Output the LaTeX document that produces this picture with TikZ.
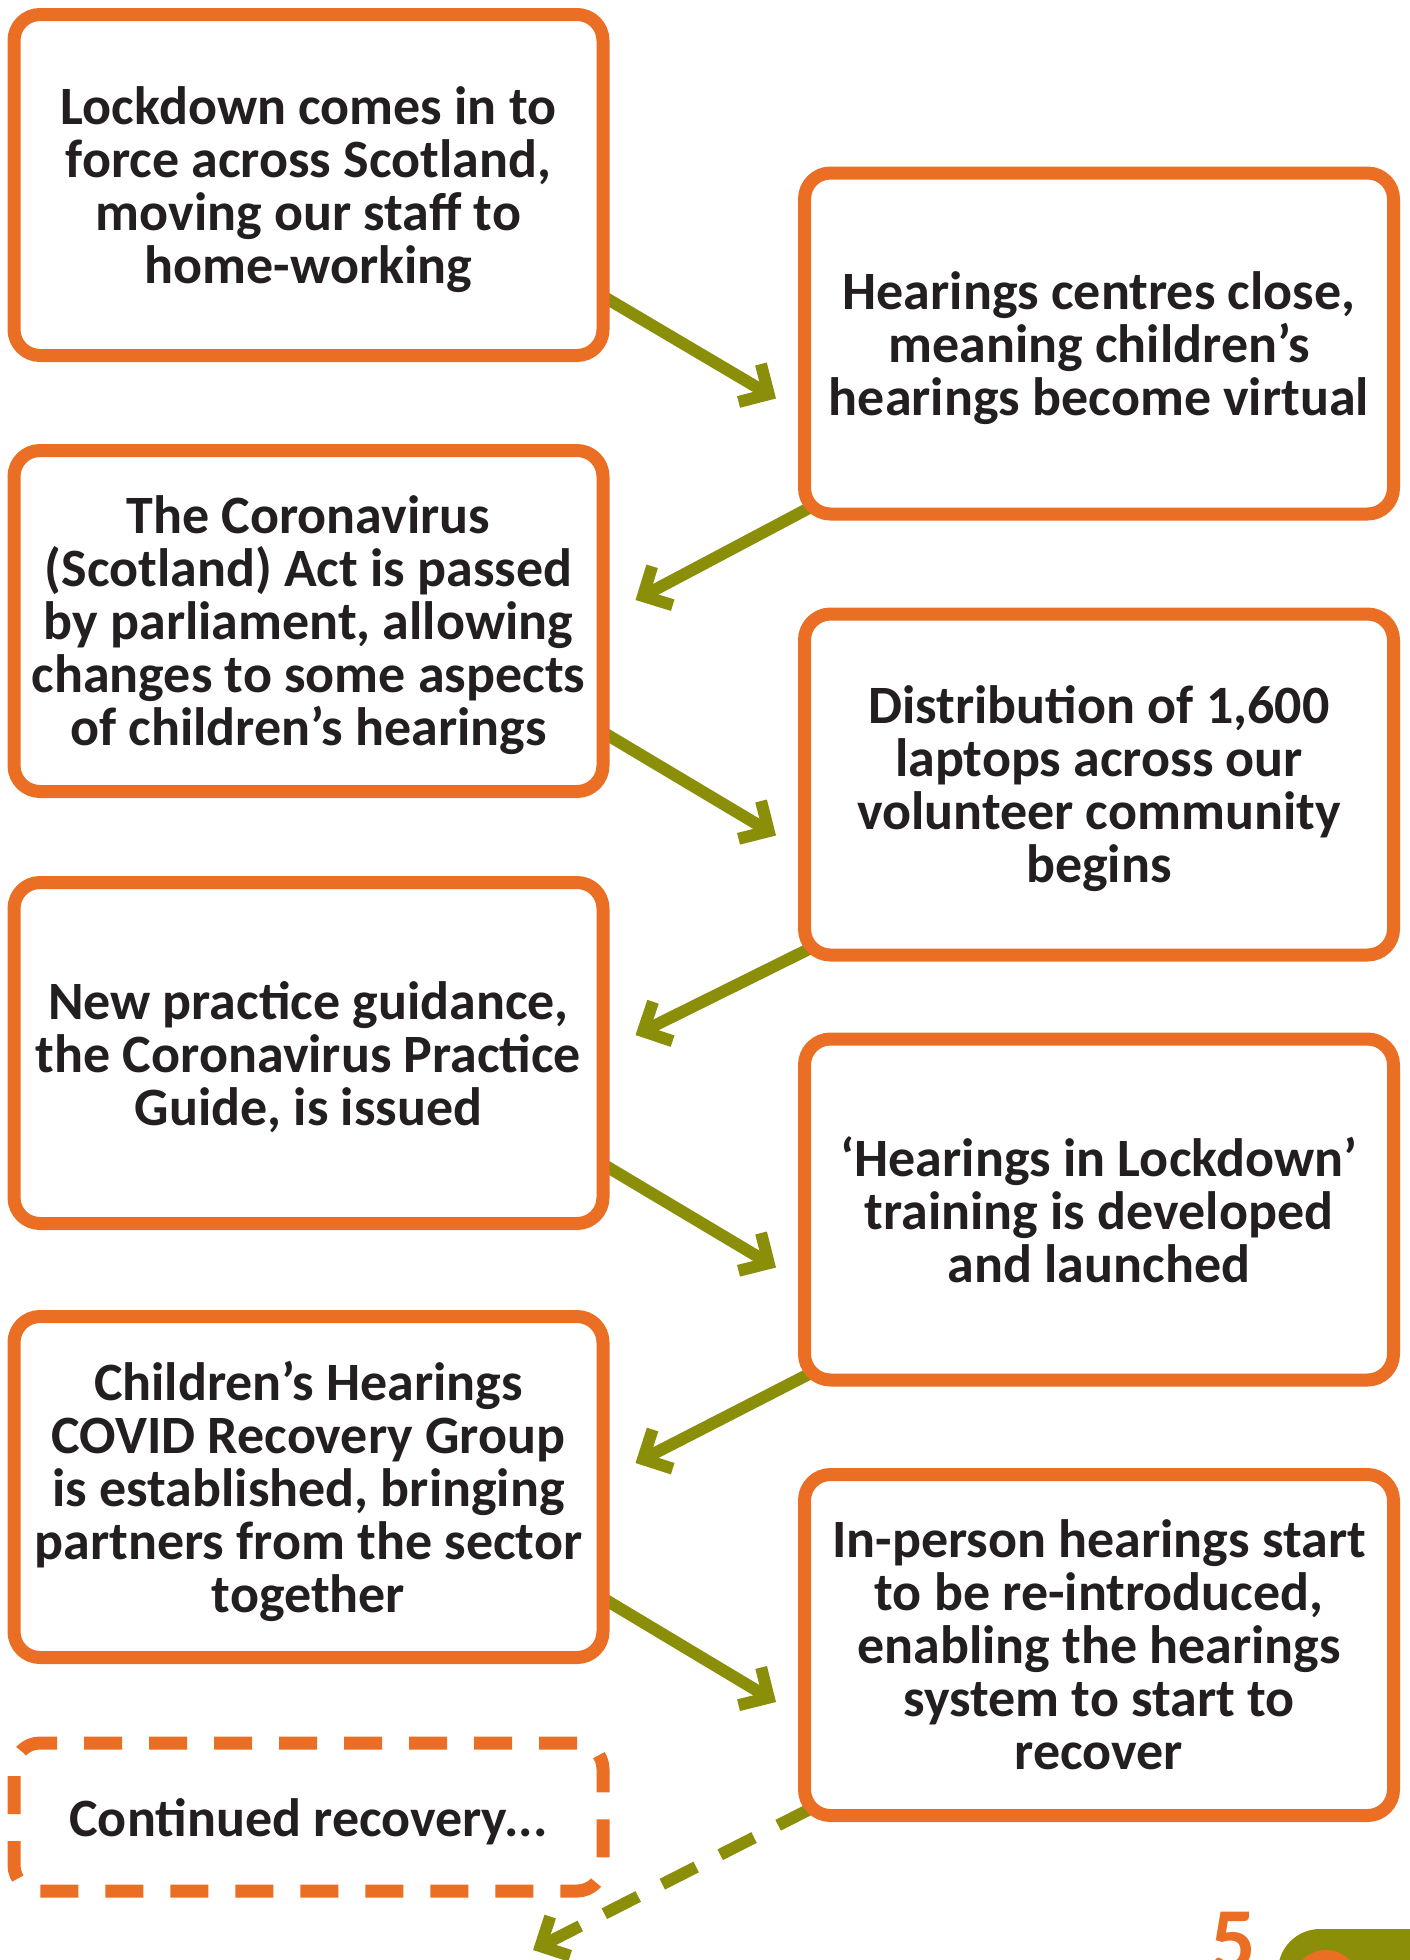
\documentclass[tikz,border=0pt]{standalone}
\usepackage{fontspec}
\setmainfont{Carlito}
\usetikzlibrary{arrows.meta,backgrounds}
\definecolor{hearorange}{RGB}{234,110,35}
\definecolor{hearolive}{RGB}{139,142,8}
\definecolor{hearink}{RGB}{35,31,32}

\begin{document}
\begin{tikzpicture}[
    x=1pt, y=-1pt,
    node distance=434pt,
    event/.style={rectangle, draw=hearorange, fill=white, line width=13pt, rounded corners=26pt, minimum width=589pt, minimum height=341pt, align=center, text=hearink, text depth=0pt, font=\fontsize{54}{53}\selectfont\bfseries},
    arrow/.style={draw=hearolive, line width=12pt, -{Straight Barb[length=22pt,width=44pt]}},
    dasharrow/.style={arrow, dash pattern=on 38pt off 27pt}
]
\useasboundingbox (0,0) rectangle (1410,1960);

% Left column
\node[event] (lock) at (308.5,185) {Lockdown comes in to\\force across Scotland,\\moving our staff to\\home-working};
\node[event, below of=lock, node distance=436pt] (act) {The Coronavirus\\(Scotland) Act is passed\\by parliament, allowing\\changes to some aspects\\of children’s hearings};
\node[event, below of=act, node distance=432pt] (guide) {New practice guidance,\\the Coronavirus Practice\\Guide, is issued};
\node[event, below of=guide] (group) {Children’s Hearings\\COVID Recovery Group\\is established, bringing\\partners from the sector\\together};
\node[event, below of=group, node distance=330pt, minimum height=148pt, dash pattern=on 38pt off 27pt] (cont) {Continued recovery...};

% Right column
\node[event, right of=lock, node distance=790.5pt, yshift=-158.5pt] (virtual) {Hearings centres close,\\meaning children’s\\hearings become virtual};
\node[event, below of=virtual, node distance=441pt] (laptops) {Distribution of 1,600\\laptops across our\\volunteer community\\begins};
\node[event, below of=laptops, node distance=425pt] (training) {‘Hearings in Lockdown’\\training is developed\\and launched};
\node[event, below of=training, node distance=435.5pt] (inperson) {In-person hearings start\\to be re-introduced,\\enabling the hearings\\system to start to\\recover};
\coordinate (next) at (533,1950);

% Connections
\begin{scope}[on background layer]
\draw[arrow] ([xshift=-7pt,yshift=-111pt]lock.east) -- ([xshift=-22pt,yshift=-55pt]virtual.west);
\draw[arrow] ([xshift=14pt,yshift=14pt]virtual.south west) -- ([xshift=26pt,yshift=21pt]act.east);
\draw[arrow] ([xshift=-7pt,yshift=-111pt]act.east) -- ([xshift=-22pt,yshift=-51pt]laptops.west);
\draw[arrow] ([xshift=14pt,yshift=14pt]laptops.south west) -- ([xshift=26pt,yshift=18pt]guide.east);
\draw[arrow] ([xshift=-7pt,yshift=-111pt]guide.east) -- ([xshift=-22pt,yshift=-58pt]training.west);
\draw[arrow] ([xshift=14pt,yshift=14pt]training.south west) -- ([xshift=26pt,yshift=24pt]group.east);
\draw[arrow] ([xshift=-7pt,yshift=-111pt]group.east) -- ([xshift=-22pt,yshift=-57pt]inperson.west);
\draw[dasharrow] ([xshift=14pt,yshift=14pt]inperson.south west) -- (next);
\end{scope}

% Page corner
\begin{scope}
\clip (0,0) rectangle (1410,1960);
\node[anchor=base west, inner sep=0pt, text=hearorange, font=\fontsize{90}{90}\selectfont\bfseries] (pagenum) at (1210,1970) {5};
\fill[hearolive, rounded corners=42pt] (1278,1929) rectangle (1470,2080);
\fill[hearorange] (1326,1983) circle (33);
\end{scope}

\end{tikzpicture}
\end{document}
